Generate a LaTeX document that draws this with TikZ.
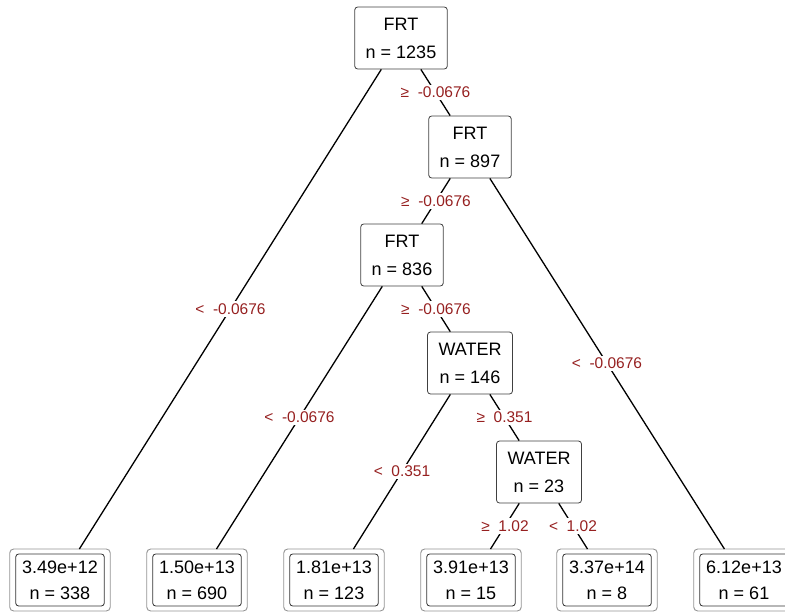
\documentclass[tikz,border=0pt]{standalone}
\usepackage{fontspec}
\setmainfont{Liberation Sans}
\usepackage{xcolor}
\usetikzlibrary{calc}
\definecolor{splitred}{RGB}{150,32,32}

\tikzset{
    split/.style={draw=black!75, line width=0.8pt, rounded corners=3pt, fill=white,
        align=center, font=\fontsize{18}{28}\selectfont, inner xsep=11pt, minimum height=62pt},
    leaf/.style={draw=black!80, line width=0.8pt, rounded corners=3pt, fill=white,
        align=center, font=\fontsize{18}{26}\selectfont, inner xsep=6.5pt, minimum height=52pt,
        outer xsep=6pt, outer ysep=5pt},
    cond/.style={fill=white, text=splitred, inner sep=2.5pt, font=\fontsize{15.5}{18}\selectfont},
    edge/.style={line width=1.3pt}
}

\begin{document}
\begin{tikzpicture}[x=1pt, y=-1pt]
        \clip (0,0) rectangle (785,611);
        % Split nodes
        \node[split] (root) at (401,38) {FRT\\n = 1235};
        \node[split] (frtb) at (470,147) {FRT\\n = 897};
        \node[split] (frtc) at (402,255) {FRT\\n = 836};
        \node[split] (wata) at (470,363) {WATER\\n = 146};
        \node[split] (watb) at (539,472) {WATER\\n = 23};
        % Leaves
        \node[leaf] (l1) at (60,580) {3.49e+12\\n = 338};
        \node[leaf] (l2) at (197,580) {1.50e+13\\n = 690};
        \node[leaf] (l3) at (334,580) {1.81e+13\\n = 123};
        \node[leaf] (l4) at (471,580) {3.91e+13\\n = 15};
        \node[leaf] (l5) at (607,580) {3.37e+14\\n = 8};
        \node[leaf] (l6) at (744,580) {6.12e+13\\n = 61};
        % Outer frame of the leaves
        \foreach \l in {l1,l2,l3,l4,l5,l6}
            \draw[gray!85, line width=0.9pt, rounded corners=4pt] (\l.south west) rectangle (\l.north east);
        % Branches
        \draw[edge] (root) -- (l1);
        \draw[edge] (root) -- (frtb);
        \draw[edge] (frtb) -- (frtc);
        \draw[edge] (frtb) -- (l6);
        \draw[edge] (frtc) -- (l2);
        \draw[edge] (frtc) -- (wata);
        \draw[edge] (wata) -- (l3);
        \draw[edge] (wata) -- (watb);
        \draw[edge] (watb) -- (l4);
        \draw[edge] (watb) -- (l5);
        % Split labels
        \node[cond] (c1) at ($(root)!0.5!(l1)$) {<\ \ -0.0676};
        \node[cond] (c2) at ($(root)!0.5!(frtb)$) {≥\ \ -0.0676};
        \node[cond] (c3) at ($(frtb)!0.5!(frtc)$) {≥\ \ -0.0676};
        \node[cond] (c4) at ($(frtb)!0.5!(l6)$) {<\ \ -0.0676};
        \node[cond] (c5) at ($(frtc)!0.5!(l2)$) {<\ \ -0.0676};
        \node[cond] (c6) at ($(frtc)!0.5!(wata)$) {≥\ \ -0.0676};
        \node[cond] (c7) at ($(wata)!0.5!(l3)$) {<\ \ 0.351};
        \node[cond] (c8) at ($(wata)!0.5!(watb)$) {≥\ \ 0.351};
        \node[cond] (c9) at ($(watb)!0.5!(l4)$) {≥\ \ 1.02};
        \node[cond] (c10) at ($(watb)!0.5!(l5)$) {<\ \ 1.02};
    \end{tikzpicture}
\end{document}
